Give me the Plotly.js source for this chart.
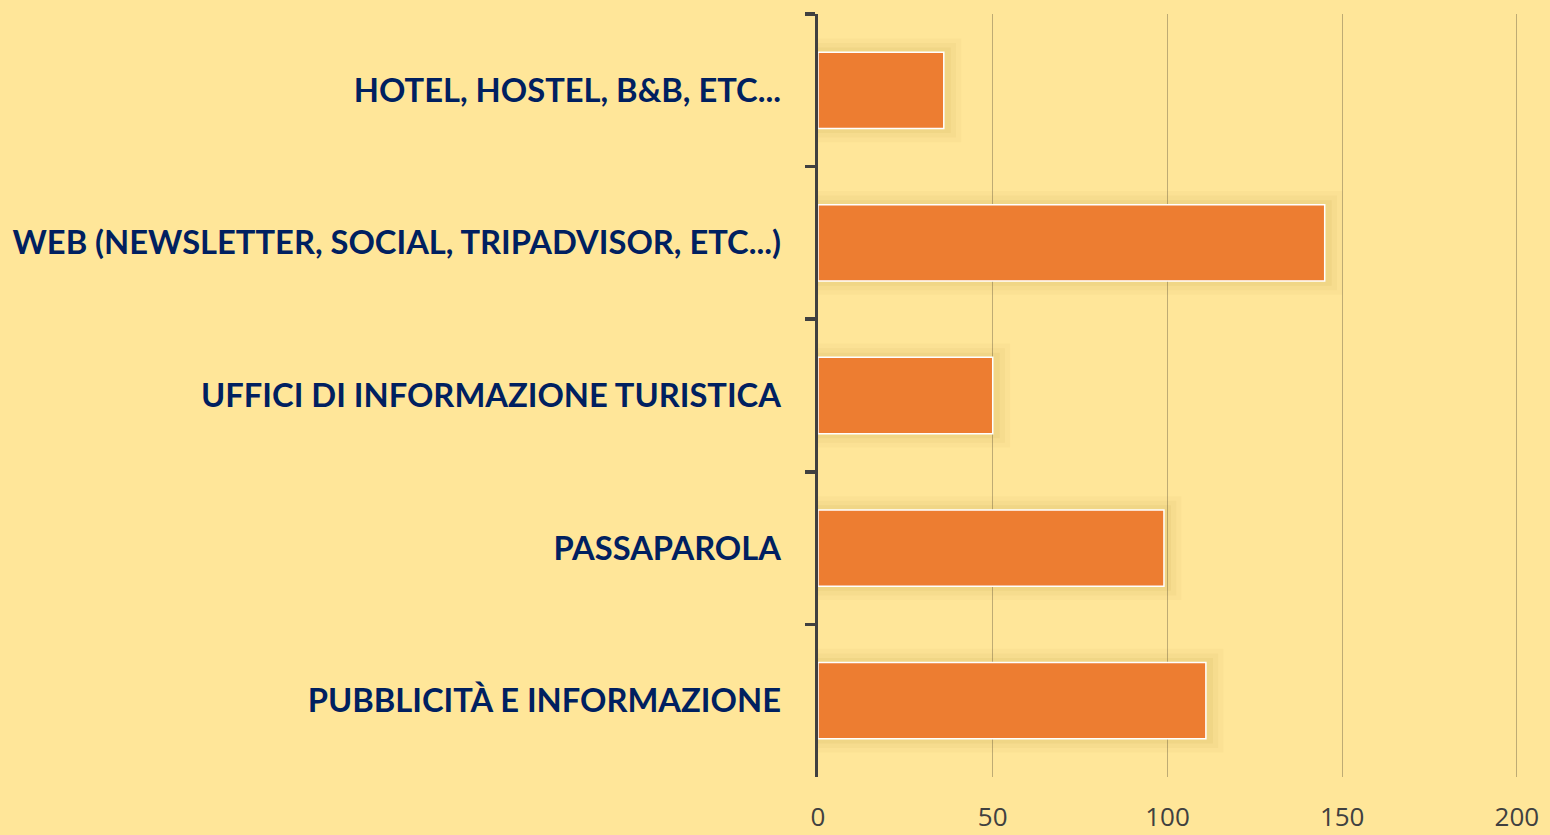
<!DOCTYPE html>
<html>
<head>
<meta charset="utf-8">
<script src="https://cdn.plot.ly/plotly-3.0.1.min.js"></script>
<style>html,body{margin:0;padding:0;background:#FFE699;}#chart{width:1550px;height:835px;}</style>
</head>
<body>
<div id="chart"></div>
<script>
const categories = [
  "HOTEL, HOSTEL, B&B, ETC...",
  "WEB (NEWSLETTER, SOCIAL, TRIPADVISOR, ETC...)",
  "UFFICI DI INFORMAZIONE TURISTICA",
  "PASSAPAROLA",
  "PUBBLICITÀ E INFORMAZIONE"
];
const values = [36, 145, 50, 99, 111];
const xTicks = [0, 50, 100, 150, 200];

const shadowLayers = [
  {w: 0.68, extra: 5, a: 0.035},
  {w: 0.62, extra: 3.5, a: 0.045},
  {w: 0.56, extra: 2, a: 0.06}
];
const traces = shadowLayers.map(s => ({
  type: 'bar', orientation: 'h',
  y: categories, x: values.map(v => v + s.extra),
  width: s.w,
  marker: {color: 'rgba(150,120,20,' + s.a + ')', line: {width: 0}},
  hoverinfo: 'skip', showlegend: false
}));
traces.push({
  type: 'bar', orientation: 'h',
  y: categories, x: values,
  width: 0.5,
  marker: {color: '#ED7D31', line: {color: '#FFFFFF', width: 1.5}},
  showlegend: false
});

const layout = {
  width: 1550, height: 835,
  paper_bgcolor: '#FFE699', plot_bgcolor: '#FFE699',
  margin: {l: 818, r: 31, t: 14, b: 58},
  barmode: 'overlay',
  xaxis: {
    range: [0, 200.6], tickvals: xTicks, ticktext: xTicks.map(String),
    showgrid: true, gridcolor: 'rgba(110,100,70,0.45)', gridwidth: 1,
    zeroline: false, showline: false, ticks: '',
    tickfont: {family: 'Open Sans, sans-serif', size: 26, color: '#404040'},
    ticklabelstandoff: 22, fixedrange: true
  },
  yaxis: {
    type: 'category', categoryorder: 'array', categoryarray: categories,
    autorange: 'reversed',
    showline: true, linecolor: '#404040', linewidth: 3.5,
    ticks: 'outside', tickson: 'boundaries', ticklen: 10, tickwidth: 3.5, tickcolor: '#404040',
    tickfont: {family: 'Lato, sans-serif', size: 32.7, color: '#002060', weight: 'bold'},
    ticklabelstandoff: 27, showgrid: false, zeroline: false, fixedrange: true
  },
  font: {family: 'Lato, sans-serif'}
};
Plotly.newPlot('chart', traces, layout, {displayModeBar: false, staticPlot: true});
</script>
</body>
</html>
